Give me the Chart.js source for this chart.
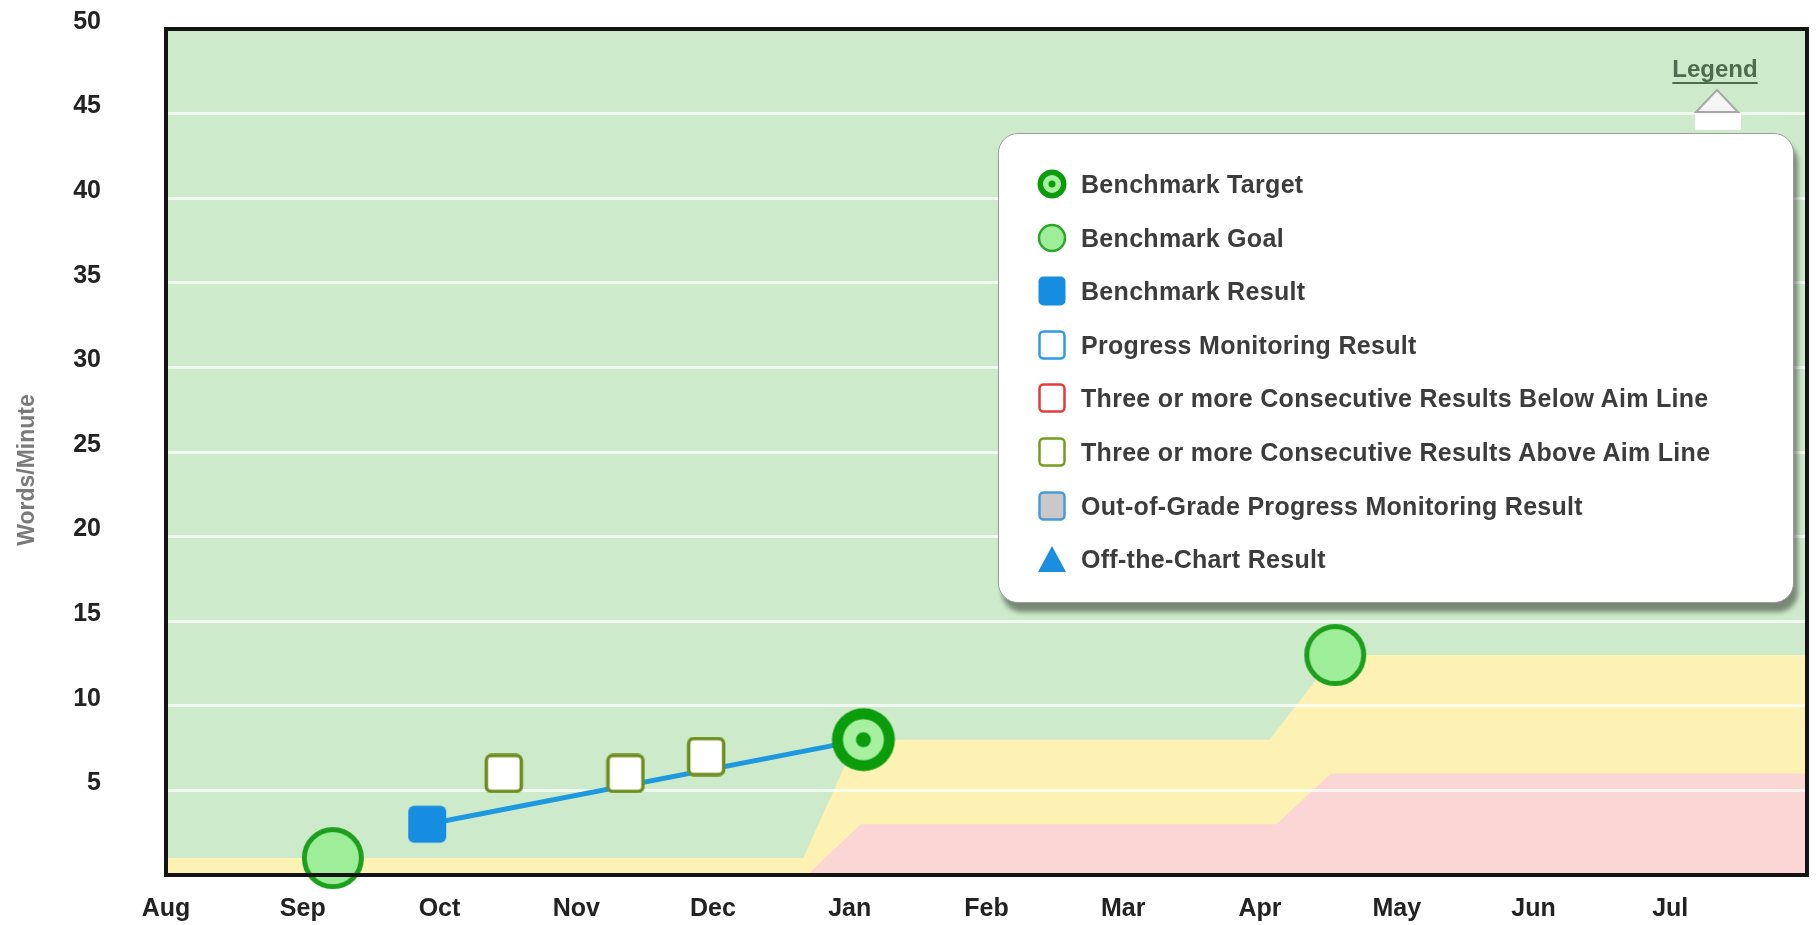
<!DOCTYPE html>
<html>
<head>
<meta charset="utf-8">
<script src="https://cdn.jsdelivr.net/npm/chart.js@4.4.1/dist/chart.umd.min.js"></script>
<style>
html,body{margin:0;padding:0;background:#fff;}
#wrap{position:relative;width:1816px;height:925px;overflow:hidden;}
#c{position:absolute;left:0;top:0;}
#legendLink{position:absolute;left:1655px;top:55px;width:120px;text-align:center;font:bold 24px "Liberation Sans",Arial,sans-serif;color:#4d6b4f;text-decoration:underline;text-decoration-thickness:2px;text-underline-offset:5px;}
#tri{position:absolute;left:1692px;top:87px;}
#legendBox{position:absolute;left:998px;top:133px;width:794px;height:468px;background:#fff;border:1.5px solid #9c9c9c;border-radius:20px;box-shadow:4px 9px 5px rgba(0,0,0,0.42);}
.item{position:absolute;left:0;height:34px;width:780px;}
.mk{position:absolute;left:38px;top:2px;width:30px;height:30px;}
.lbl{position:absolute;left:82px;top:0;font:bold 25px "Liberation Sans",Arial,sans-serif;line-height:34px;color:#3c3c3c;letter-spacing:0.3px;white-space:nowrap;}
</style>
</head>
<body>
<div id="wrap">
  <canvas id="c" width="1816" height="925"></canvas>
  <div id="legendLink">Legend</div>
  <svg id="tri" width="52" height="44" viewBox="0 0 52 44">
    <rect x="3" y="27" width="46" height="16" fill="#ffffff"/>
    <polygon points="25,3 46,25 4,25" fill="#f5f5f5" stroke="#a8a8a8" stroke-width="2"/>
  </svg>
  <div id="legendBox"></div>
</div>
<script>
// ---------- data ----------
const monthLabels = ['Aug','Sep','Oct','Nov','Dec','Jan','Feb','Mar','Apr','May','Jun','Jul'];

const goalMonth   = [1.22, 8.55];
const goalWpm     = [1, 13];
const targetMonth = [5.10];
const targetWpm   = [8];
const benchMonth  = [1.91];
const benchWpm    = [3];
const pmMonth     = [2.47, 3.36, 3.95];
const pmWpm       = [6, 6, 7];

const greenBandMonth  = [0, 12];
const greenBandTop    = [50, 50];
const yellowBandMonth = [0, 4.66, 5.05, 8.07, 8.55, 12];
const yellowBandTop   = [1, 1, 8, 8, 13, 13];
const pinkBandMonth   = [0, 4.69, 5.08, 8.12, 8.52, 12];
const pinkBandTop     = [0, 0, 3, 3, 6, 6];

const yAxisTitle = 'Words/Minute';
const legendLabels = [
  'Benchmark Target',
  'Benchmark Goal',
  'Benchmark Result',
  'Progress Monitoring Result',
  'Three or more Consecutive Results Below Aim Line',
  'Three or more Consecutive Results Above Aim Line',
  'Out-of-Grade Progress Monitoring Result',
  'Off-the-Chart Result'
];

// ---------- helpers ----------
const zip = (xs, ys) => xs.map((x, i) => ({x: x, y: ys[i]}));
function mkCanvas(w, h, draw) {
  const c = document.createElement('canvas');
  c.width = w; c.height = h;
  draw(c.getContext('2d'));
  return c;
}
function rrPath(g, x, y, w, h, r) {
  g.beginPath();
  g.moveTo(x + r, y);
  g.lineTo(x + w - r, y); g.arcTo(x + w, y, x + w, y + r, r);
  g.lineTo(x + w, y + h - r); g.arcTo(x + w, y + h, x + w - r, y + h, r);
  g.lineTo(x + r, y + h); g.arcTo(x, y + h, x, y + h - r, r);
  g.lineTo(x, y + r); g.arcTo(x, y, x + r, y, r);
  g.closePath();
}
function disc(g, cx, cy, r, col) { g.beginPath(); g.arc(cx, cy, r, 0, Math.PI * 2); g.fillStyle = col; g.fill(); }

const goalImg = mkCanvas(66, 66, g => {
  g.beginPath(); g.arc(33, 33, 28.5, 0, Math.PI * 2);
  g.fillStyle = '#9eee99'; g.fill();
  g.lineWidth = 5; g.strokeStyle = '#1d9f1d'; g.stroke();
});
const targetImg = mkCanvas(66, 66, g => {
  disc(g, 33, 33, 31.5, '#0b9c0b');
  disc(g, 33, 33, 20.5, '#a6f0a0');
  disc(g, 33, 33, 7.5, '#0b9c0b');
});
const benchImg = mkCanvas(40, 40, g => {
  rrPath(g, 1, 1.5, 38, 37, 6); g.fillStyle = '#168de1'; g.fill();
});
const pmImg = mkCanvas(40, 40, g => {
  rrPath(g, 2.5, 2, 35, 36, 5); g.fillStyle = '#ffffff'; g.fill();
  g.lineWidth = 3.5; g.strokeStyle = '#6c8d1d'; g.stroke();
});

// ---------- plugins ----------
const framePlugin = {
  id: 'frame',
  afterDatasetsDraw(chart) {
    const a = chart.chartArea, ctx = chart.ctx;
    ctx.save();
    ctx.lineWidth = 4; ctx.strokeStyle = '#141414';
    ctx.strokeRect(a.left, a.top, a.right - a.left, a.bottom - a.top);
    ctx.restore();
  }
};
const yTitlePlugin = {
  id: 'ytitle',
  afterDraw(chart) {
    const a = chart.chartArea, ctx = chart.ctx;
    ctx.save();
    ctx.translate(28, (a.top + a.bottom) / 2 + 18);
    ctx.rotate(-Math.PI / 2);
    ctx.font = 'bold 23px "Liberation Sans", Arial, sans-serif';
    ctx.fillStyle = '#7a7a7a';
    ctx.textAlign = 'center'; ctx.textBaseline = 'middle';
    ctx.fillText(yAxisTitle, 0, 0);
    ctx.restore();
  }
};

// ---------- chart ----------
const tickFont = {family: '"Liberation Sans", Arial, sans-serif', size: 25, weight: 'bold'};
new Chart(document.getElementById('c'), {
  type: 'scatter',
  data: {
    datasets: [
      {type: 'line', label: 'pink', data: zip(pinkBandMonth, pinkBandTop), fill: 'origin',
       backgroundColor: '#fbd6d4', borderColor: 'transparent', borderWidth: 0, pointRadius: 0, tension: 0, order: 10},
      {type: 'line', label: 'yellow', data: zip(yellowBandMonth, yellowBandTop), fill: 'origin',
       backgroundColor: '#fdf2b4', borderColor: 'transparent', borderWidth: 0, pointRadius: 0, tension: 0, order: 11},
      {type: 'line', label: 'green', data: zip(greenBandMonth, greenBandTop), fill: 'origin',
       backgroundColor: '#cdebca', borderColor: 'transparent', borderWidth: 0, pointRadius: 0, tension: 0, order: 12},
      {type: 'line', label: 'aim', data: [{x: benchMonth[0], y: benchWpm[0]}, {x: targetMonth[0], y: targetWpm[0]}],
       borderColor: '#1e98de', borderWidth: 5, pointRadius: 0, fill: false, tension: 0, order: 5},
      {label: legendLabels[2], data: zip(benchMonth, benchWpm), pointStyle: benchImg, pointRadius: 19, clip: false, order: 4},
      {label: legendLabels[3], data: zip(pmMonth, pmWpm), pointStyle: pmImg, pointRadius: 19, clip: false, order: 3},
      {label: legendLabels[1], data: zip(goalMonth, goalWpm), pointStyle: goalImg, pointRadius: 31, clip: false, order: 2},
      {label: legendLabels[0], data: zip(targetMonth, targetWpm), pointStyle: targetImg, pointRadius: 31, clip: false, order: 1}
    ]
  },
  options: {
    responsive: false,
    animation: false,
    devicePixelRatio: 1,
    events: [],
    layout: {autoPadding: false, padding: {top: 29, right: 9, left: 0, bottom: 0}},
    plugins: {
      legend: {display: false},
      tooltip: {enabled: false},
      filler: {drawTime: 'beforeDraw'}
    },
    scales: {
      x: {
        type: 'linear', min: 0, max: 12,
        grid: {display: false, drawTicks: false},
        border: {display: false},
        afterFit: s => { s.height = 50; s.paddingLeft = 0; s.paddingRight = 0; },
        ticks: {
          stepSize: 1, autoSkip: false, maxRotation: 0, padding: 19,
          color: '#222', font: tickFont,
          callback: v => (monthLabels[v] !== undefined ? monthLabels[v] : '')
        }
      },
      y: {
        min: 0, max: 50,
        grid: {
          drawTicks: false, lineWidth: 3,
          color: c => (c.tick && (c.tick.value === 0 || c.tick.value === 50)) ? 'transparent' : 'rgba(255,255,255,0.72)'
        },
        border: {display: false},
        afterFit: s => { s.width = 166; s.paddingTop = 0; s.paddingBottom = 0; },
        ticks: {
          stepSize: 5, padding: 65, labelOffset: -7,
          color: '#222', font: tickFont,
          callback: v => (v === 0 ? '' : String(v))
        }
      }
    }
  },
  plugins: [framePlugin, yTitlePlugin]
});

// ---------- HTML legend ----------
const markerSvgs = [
  '<svg class="mk" viewBox="0 0 30 30"><circle cx="15" cy="15" r="14.5" fill="#0b9c0b"/><circle cx="15" cy="15" r="9" fill="#a6f0a0"/><circle cx="15" cy="15" r="3.5" fill="#0b9c0b"/></svg>',
  '<svg class="mk" viewBox="0 0 30 30"><circle cx="15" cy="15" r="13" fill="#9eee99" stroke="#2aa82a" stroke-width="2.5"/></svg>',
  '<svg class="mk" viewBox="0 0 30 30"><rect x="1.5" y="0.5" width="27" height="29" rx="5" fill="#168de1"/></svg>',
  '<svg class="mk" viewBox="0 0 30 30"><rect x="2.5" y="1.5" width="25" height="27" rx="4" fill="#fff" stroke="#2e9be6" stroke-width="2.5"/></svg>',
  '<svg class="mk" viewBox="0 0 30 30"><rect x="2.5" y="1.5" width="25" height="27" rx="4" fill="#fff" stroke="#e63b3b" stroke-width="2.5"/></svg>',
  '<svg class="mk" viewBox="0 0 30 30"><rect x="2.5" y="1.5" width="25" height="27" rx="4" fill="#fff" stroke="#7a9a1e" stroke-width="2.5"/></svg>',
  '<svg class="mk" viewBox="0 0 30 30"><rect x="2.5" y="1.5" width="25" height="27" rx="4" fill="#c9c9c9" stroke="#4b9ad8" stroke-width="2.5"/></svg>',
  '<svg class="mk" viewBox="0 0 30 30"><polygon points="15,2 29,28 1,28" fill="#1a8fe0"/></svg>'
];
const box = document.getElementById('legendBox');
legendLabels.forEach((t, i) => {
  const d = document.createElement('div');
  d.className = 'item';
  d.style.top = (50 + i * 53.6 - 17) + 'px';
  d.innerHTML = markerSvgs[i] + '<span class="lbl"></span>';
  d.querySelector('.lbl').textContent = t;
  box.appendChild(d);
});
</script>
</body>
</html>
